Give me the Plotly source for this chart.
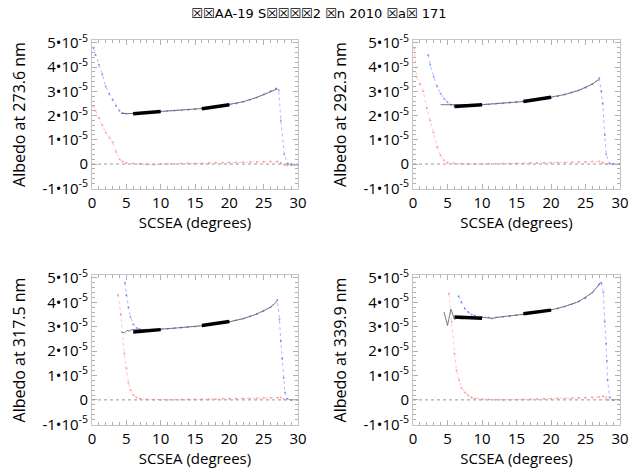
import plotly.graph_objects as go

TITLE = "☒☒AA-19 S☒☒☒☒2 ☒n 2010 ☒a☒ 171"
WAVELENGTHS = ["273.6", "292.3", "317.5", "339.9"]

# values in units of 1e-5
p1_blue_x = [0.2, 0.5, 1, 1.5, 2, 2.5, 3, 3.5, 4, 4.5, 5, 6, 7, 8, 9, 10, 11, 12, 13, 14, 15, 16, 17, 18, 19, 20, 21, 22, 23, 24, 25, 26, 26.8, 27.2, 27.5, 28, 28.5, 29, 29.5, 30]
p1_blue_y = [4.8, 4.5, 4.1, 3.7, 3.2, 2.9, 2.65, 2.4, 2.2, 2.1, 2.08, 2.09, 2.11, 2.13, 2.15, 2.17, 2.19, 2.2, 2.22, 2.24, 2.26, 2.29, 2.32, 2.36, 2.4, 2.45, 2.5, 2.57, 2.65, 2.75, 2.87, 3.0, 3.12, 3.05, 1.8, 0.4, 0.02, -0.02, -0.03, -0.05]
p1_red_x = [0.2, 0.5, 1, 1.5, 2, 2.5, 3, 3.5, 4, 4.5, 5, 6, 7, 8, 9, 10, 11, 12, 13, 14, 15, 16, 17, 18, 19, 20, 21, 22, 23, 24, 25, 26, 27, 27.5, 28, 28.5, 29, 30]
p1_red_y = [2.4, 2.2, 1.9, 1.6, 1.3, 1.1, 0.9, 0.5, 0.2, 0.1, 0.04, 0.02, 0.01, -0.02, -0.03, 0, 0.01, 0, 0.02, 0.03, 0.02, 0.03, 0.04, 0.05, 0.05, 0.06, 0.06, 0.07, 0.08, 0.08, 0.09, 0.1, 0.1, 0.05, -0.05, -0.05, -0.05, -0.05]
p1_model_x = [4.2, 5, 6, 8, 10, 12, 14, 16, 18, 20, 22, 24, 26, 27]
p1_model_y = [2.1, 2.08, 2.09, 2.13, 2.17, 2.2, 2.24, 2.29, 2.36, 2.45, 2.57, 2.75, 3.0, 3.1]
p1_fit_x = [[6, 10], [16, 20]]
p1_fit_y = [[2.08, 2.17], [2.28, 2.45]]

p2_blue_x = [2.2, 2.5, 3, 3.5, 4, 4.5, 5, 5.5, 6, 7, 8, 9, 10, 11, 12, 13, 14, 15, 16, 17, 18, 19, 20, 21, 22, 23, 24, 25, 26, 27, 27.3, 27.5, 27.8, 28, 28.5, 29, 30]
p2_blue_y = [4.5, 4.1, 3.6, 3.2, 2.9, 2.7, 2.55, 2.45, 2.4, 2.40, 2.42, 2.43, 2.45, 2.47, 2.49, 2.51, 2.53, 2.55, 2.58, 2.62, 2.66, 2.7, 2.75, 2.8, 2.87, 2.95, 3.04, 3.15, 3.3, 3.55, 3.0, 2.5, 1.2, 0.4, 0.02, 0, 0]
p2_red_x = [0.2, 0.5, 1, 1.5, 2, 2.5, 3, 3.5, 4, 4.5, 5, 6, 7, 8, 9, 10, 11, 12, 13, 14, 15, 16, 17, 18, 19, 20, 21, 22, 23, 24, 25, 26, 27, 27.5, 28, 29, 30]
p2_red_y = [4.8, 3.6, 3.3, 3.0, 2.3, 1.8, 1.3, 0.7, 0.35, 0.15, 0.05, 0.02, 0.01, 0, 0, 0, 0, 0.01, 0.02, 0.02, 0.03, 0.03, 0.04, 0.04, 0.05, 0.05, 0.06, 0.06, 0.07, 0.08, 0.08, 0.1, 0.1, 0.05, 0, 0, 0]
p2_model_x = [4, 5, 5.5, 6, 8, 10, 12, 14, 16, 18, 20, 22, 24, 26, 27]
p2_model_y = [2.45, 2.45, 2.44, 2.42, 2.42, 2.45, 2.49, 2.53, 2.58, 2.66, 2.75, 2.87, 3.04, 3.3, 3.5]
p2_fit_x = [[6, 10], [16, 20]]
p2_fit_y = [[2.38, 2.45], [2.58, 2.76]]

p3_blue_x = [4.8, 5, 5.3, 5.6, 6, 6.5, 7, 8, 9, 10, 11, 12, 13, 14, 15, 16, 17, 18, 19, 20, 21, 22, 23, 24, 25, 26, 27, 27.3, 27.5, 27.7, 27.9, 28.1, 28.4, 29, 30]
p3_blue_y = [4.8, 4.3, 3.8, 3.4, 3.1, 2.95, 2.9, 2.88, 2.88, 2.9, 2.92, 2.94, 2.96, 2.98, 3.01, 3.04, 3.08, 3.12, 3.16, 3.2, 3.26, 3.33, 3.42, 3.52, 3.64, 3.8, 4.1, 3.3, 2.4, 1.7, 0.9, 0.3, 0.05, 0, 0]
p3_red_x = [3.8, 4.2, 4.7, 5, 5.3, 5.6, 6, 6.5, 7, 8, 9, 10, 11, 12, 13, 14, 15, 16, 17, 18, 19, 20, 21, 22, 23, 24, 25, 26, 27, 27.5, 28, 29, 30]
p3_red_y = [4.3, 3.5, 1.9, 1.3, 0.7, 0.4, 0.2, 0.1, 0.05, 0.02, 0.01, 0, 0, 0.01, 0.01, 0.02, 0.02, 0.03, 0.03, 0.04, 0.05, 0.05, 0.05, 0.06, 0.06, 0.07, 0.08, 0.08, 0.09, 0.1, 0.02, 0, 0]
p3_model_x = [4.2, 4.5, 4.8, 5.1, 5.4, 5.8, 6.5, 8, 10, 12, 14, 16, 18, 20, 22, 24, 26, 27]
p3_model_y = [2.8, 2.75, 2.76, 2.85, 2.82, 2.88, 2.88, 2.88, 2.9, 2.94, 2.98, 3.04, 3.12, 3.2, 3.33, 3.52, 3.8, 4.05]
p3_fit_x = [[6, 10], [16, 20]]
p3_fit_y = [[2.78, 2.88], [3.05, 3.21]]

p4_blue_x = [6.6, 7, 7.5, 8, 8.5, 9, 10, 11, 12, 13, 14, 15, 16, 17, 18, 19, 20, 21, 22, 23, 24, 25, 26, 27, 27.3, 27.6, 27.8, 28, 28.1, 28.2, 28.5, 29, 30]
p4_blue_y = [4.25, 4.0, 3.75, 3.6, 3.5, 3.45, 3.4, 3.38, 3.38, 3.4, 3.43, 3.47, 3.51, 3.55, 3.59, 3.64, 3.69, 3.75, 3.83, 3.92, 4.03, 4.17, 4.4, 4.75, 4.8, 4.4, 3.2, 2.3, 1.6, 0.8, 0.1, 0, 0]
p4_red_x = [5.2, 5.6, 6, 6.3, 6.7, 7, 7.5, 8, 8.5, 9, 10, 11, 12, 13, 14, 15, 16, 17, 18, 19, 20, 21, 22, 23, 24, 25, 26, 27, 27.5, 28, 28.3, 29, 30]
p4_red_y = [4.35, 3.2, 1.9, 1.2, 0.8, 0.5, 0.3, 0.18, 0.1, 0.06, 0.03, 0.02, 0.01, 0, 0, 0.01, 0.02, 0.03, 0.03, 0.04, 0.05, 0.06, 0.06, 0.07, 0.08, 0.09, 0.1, 0.12, 0.15, 0.1, 0, 0, 0]
p4_model_x = [4.5, 5, 5.5, 6, 6.3, 6.6, 7, 8, 9, 10, 11, 11.5, 12, 14, 16, 18, 20, 22, 24, 26, 27.2]
p4_model_y = [3.6, 3.05, 3.72, 3.3, 3.35, 3.33, 3.32, 3.35, 3.37, 3.38, 3.36, 3.32, 3.38, 3.43, 3.51, 3.59, 3.69, 3.83, 4.03, 4.4, 4.8]
p4_fit_x = [[6, 10], [16, 20]]
p4_fit_y = [[3.4, 3.35], [3.53, 3.68]]

x_ticks = [0, 5, 10, 15, 20, 25, 30]
y_tick_vals = [-1, 0, 1, 2, 3, 4, 5]
y_tick_text = ["-1•10<sup>-5</sup>", "0", "1•10<sup>-5</sup>", "2•10<sup>-5</sup>",
               "3•10<sup>-5</sup>", "4•10<sup>-5</sup>", "5•10<sup>-5</sup>"]
SCALE = 1e-5

panels = [
    (p1_blue_x, p1_blue_y, p1_red_x, p1_red_y, p1_model_x, p1_model_y, p1_fit_x, p1_fit_y),
    (p2_blue_x, p2_blue_y, p2_red_x, p2_red_y, p2_model_x, p2_model_y, p2_fit_x, p2_fit_y),
    (p3_blue_x, p3_blue_y, p3_red_x, p3_red_y, p3_model_x, p3_model_y, p3_fit_x, p3_fit_y),
    (p4_blue_x, p4_blue_y, p4_red_x, p4_red_y, p4_model_x, p4_model_y, p4_fit_x, p4_fit_y),
]

W, H = 638, 473
x_domains = [[92 / W, 298 / W], [413 / W, 620 / W]]
y_domains = [[1 - 189 / H, 1 - 40 / H], [1 - 425 / H, 1 - 275 / H]]

FONT = "Open Sans"
fig = go.Figure()
layout = {}
for i, (bx, by, rx, ry, mx, my, fx, fy) in enumerate(panels):
    n = "" if i == 0 else str(i + 1)
    xa, ya = "x" + n, "y" + n
    s = lambda v: [t * SCALE for t in v]
    fig.add_trace(go.Scatter(x=rx, y=s(ry), mode="lines+markers", xaxis=xa, yaxis=ya,
                             line=dict(color="rgba(255,70,70,0.3)", width=1, dash="dot"),
                             marker=dict(size=2, color="rgba(255,70,70,0.5)"), showlegend=False))
    fig.add_trace(go.Scatter(x=bx, y=s(by), mode="lines+markers", xaxis=xa, yaxis=ya,
                             line=dict(color="rgba(50,50,255,0.35)", width=1, dash="dot"),
                             marker=dict(size=2, color="rgba(50,50,255,0.5)"), showlegend=False))
    fig.add_trace(go.Scatter(x=mx, y=s(my), mode="lines", xaxis=xa, yaxis=ya,
                             line=dict(color="rgba(90,90,90,0.8)", width=1), showlegend=False))
    for sx, sy in zip(fx, fy):
        fig.add_trace(go.Scatter(x=sx, y=s(sy), mode="lines", xaxis=xa, yaxis=ya,
                                 line=dict(color="black", width=3.5), showlegend=False))
    fig.add_shape(type="line", xref=xa, yref=ya, x0=0, x1=30, y0=0, y1=0,
                  line=dict(color="#999999", width=1, dash="dot"))
    col, row = i % 2, i // 2
    axcommon = dict(showgrid=False, zeroline=False, showline=True, mirror="ticks",
                    linecolor="#c4c4c4", linewidth=1, ticks="inside", tickcolor="#b0b0b0",
                    ticklen=5, tickfont=dict(family=FONT, size=15, color="black"))
    layout["xaxis" + n] = dict(domain=x_domains[col], anchor=ya, range=[0, 30],
                               tickvals=x_ticks, ticktext=[str(t) for t in x_ticks],
                               minor=dict(dtick=1, ticks="inside", ticklen=3, tickcolor="#b0b0b0"),
                               title=dict(text="SCSEA (degrees)", font=dict(family=FONT, size=15, color="black"),
                                          standoff=2),
                               **axcommon)
    layout["yaxis" + n] = dict(domain=y_domains[row], anchor=xa, range=[-1.03e-5, 5.12e-5],
                               tickvals=[v * SCALE for v in y_tick_vals], ticktext=y_tick_text,
                               minor=dict(dtick=0.2e-5, tick0=0, ticks="inside", ticklen=3, tickcolor="#b0b0b0"),
                               title=dict(text="Albedo at " + WAVELENGTHS[i] + " nm",
                                          font=dict(family=FONT, size=16, color="black"), standoff=12),
                               **axcommon)

fig.update_layout(
    width=W, height=H, margin=dict(l=0, r=0, t=0, b=0, autoexpand=False),
    paper_bgcolor="white", plot_bgcolor="white",
    title=dict(text=TITLE, x=0.5, xanchor="center", y=1 - 13 / H, yanchor="middle",
               font=dict(family="DejaVu Sans", size=13, color="black")),
    **layout,
)
fig.write_html("out.html", config={"displayModeBar": False},
               post_script="document.body.style.margin='0';")
